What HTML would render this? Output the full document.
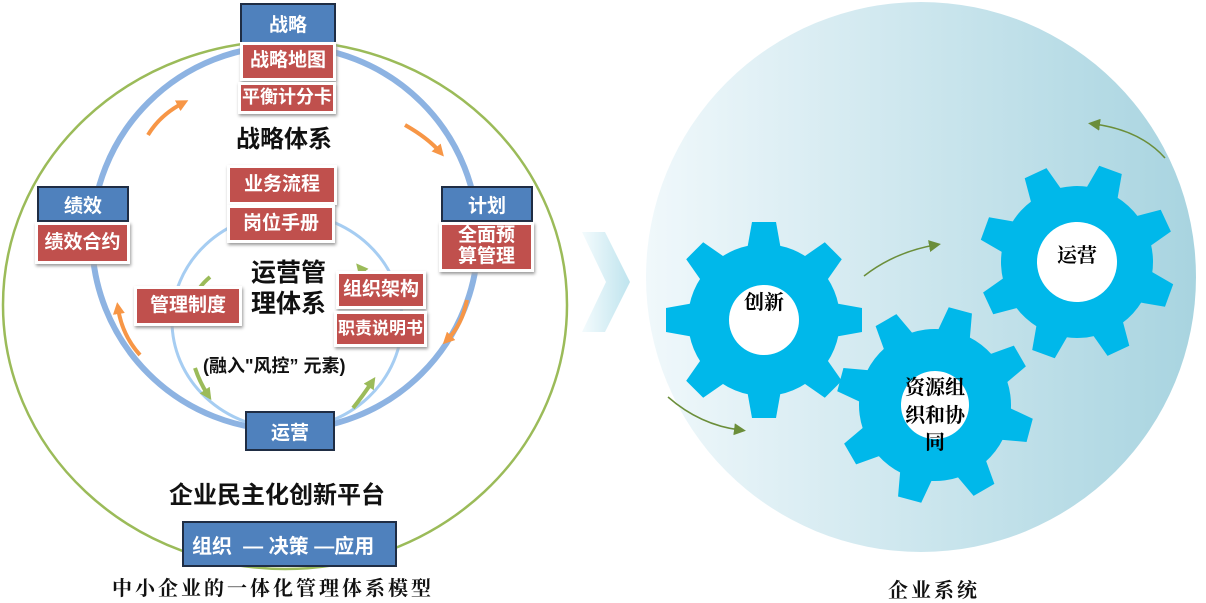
<!DOCTYPE html>
<html><head><meta charset="utf-8"><style>
body{margin:0;width:1206px;height:602px;background:#fff;overflow:hidden;position:relative;font-family:"Liberation Sans","Noto Sans CJK SC",sans-serif}
.b{position:absolute;background:#4f81bd;border:2px solid #1f2d44;color:#fff;font-weight:bold;font-size:19px;display:flex;align-items:center;justify-content:center;box-sizing:border-box}
.r{position:absolute;background:#c0504d;border:3px solid #fff;box-shadow:1px 2px 3px #999;color:#fff;font-weight:bold;font-size:19px;display:flex;align-items:center;justify-content:center;box-sizing:border-box;line-height:1.1;text-align:center;overflow:hidden;white-space:nowrap}
.t{position:absolute;font-weight:bold;color:#111;white-space:nowrap}
</style></head><body>
<svg width="1206" height="602" style="position:absolute;left:0;top:0">
<defs>
<linearGradient id="sg" x1="0" x2="1" y1="0" y2="0"><stop offset="0" stop-color="#f0f8fb"/><stop offset="1" stop-color="#a8d4e0"/></linearGradient>
<linearGradient id="cg" x1="0" x2="1"><stop offset="0" stop-color="#f4fbfd"/><stop offset="1" stop-color="#bfe4ee"/></linearGradient>
<marker id="ao" markerWidth="3" markerHeight="3" refX="1.5" refY="1.5" orient="auto"><path d="M0,0L3,1.5L0,3z" fill="#f79646"/></marker>
<marker id="ag" markerWidth="3" markerHeight="3" refX="1.5" refY="1.5" orient="auto"><path d="M0,0L3,1.5L0,3z" fill="#9bbb59"/></marker>
<marker id="ad" markerWidth="8" markerHeight="8" refX="4" refY="4" orient="auto"><path d="M0,0L8,4L0,8z" fill="#6b8e3a"/></marker>
</defs>
<ellipse cx="285" cy="305" rx="282" ry="264" fill="none" stroke="#9bbb59" stroke-width="2.5"/>
<ellipse cx="285" cy="238" rx="193" ry="192" fill="none" stroke="#8db3e2" stroke-width="6"/>
<ellipse cx="287" cy="321" rx="115" ry="108" fill="none" stroke="#a6cdf2" stroke-width="3"/>
<path d="M148,135 Q160,115 183,103" stroke="#f79646" stroke-width="4" fill="none" marker-end="url(#ao)"/>
<path d="M405,125 Q428,138 440,152" stroke="#f79646" stroke-width="4" fill="none" marker-end="url(#ao)"/>
<path d="M467,300 Q462,325 447,340" stroke="#f79646" stroke-width="4" fill="none" marker-end="url(#ao)"/>
<path d="M140,355 Q122,335 118,308" stroke="#f79646" stroke-width="4" fill="none" marker-end="url(#ao)"/>
<path d="M210,277 Q198,287 193,300" stroke="#9bbb59" stroke-width="4" fill="none" marker-end="url(#ag)"/>
<path d="M375,295 Q370,280 360,268" stroke="#9bbb59" stroke-width="4" fill="none" marker-end="url(#ag)"/>
<path d="M195,368 Q200,383 208,395" stroke="#9bbb59" stroke-width="4" fill="none" marker-end="url(#ag)"/>
<path d="M353,408 Q362,397 372,382" stroke="#9bbb59" stroke-width="4" fill="none" marker-end="url(#ag)"/>
<path d="M582,232 L605,232 L630,282 L605,332 L582,332 L606,282z" fill="url(#cg)"/>
<circle cx="921" cy="277" r="275" fill="url(#sg)"/>
<g fill="#00b8ea">
<g transform="translate(764,320)"><circle r="76"/>
<g id="t8"><path d="M-17,-70L-12,-98L12,-98L17,-70z"/><path d="M-17,-70L-12,-98L12,-98L17,-70z" transform="rotate(45)"/><path d="M-17,-70L-12,-98L12,-98L17,-70z" transform="rotate(90)"/><path d="M-17,-70L-12,-98L12,-98L17,-70z" transform="rotate(135)"/><path d="M-17,-70L-12,-98L12,-98L17,-70z" transform="rotate(180)"/><path d="M-17,-70L-12,-98L12,-98L17,-70z" transform="rotate(225)"/><path d="M-17,-70L-12,-98L12,-98L17,-70z" transform="rotate(270)"/><path d="M-17,-70L-12,-98L12,-98L17,-70z" transform="rotate(315)"/></g>
<circle r="35" fill="#fff"/></g>
<g transform="translate(935,405) rotate(15)"><circle r="76"/><use href="#t8"/><circle r="34" fill="#fff"/></g>
<g transform="translate(1077,262) rotate(20)"><circle r="76"/><use href="#t8"/><circle r="40" fill="#fff"/></g>
</g>
<path d="M864,276 Q895,252 935,245" stroke="#6b8e3a" stroke-width="1.5" fill="none" marker-end="url(#ad)"/>
<path d="M668,397 Q700,425 740,430" stroke="#6b8e3a" stroke-width="1.5" fill="none" marker-end="url(#ad)"/>
<path d="M1165,158 Q1140,130 1094,124" stroke="#6b8e3a" stroke-width="1.5" fill="none" marker-end="url(#ad)"/>
<g font-family="'Liberation Serif','Noto Serif CJK SC',serif" font-size="20" font-weight="bold" fill="#000" text-anchor="middle">
<text x="764" y="309">创新</text>
<text x="1077" y="262">运营</text>
<text x="935" y="394">资源组</text><text x="935" y="422">织和协</text><text x="935" y="449">同</text>
</g>
</svg>
<div class="b" style="left:240px;top:3px;width:96px;height:41px">战略</div>
<div class="r" style="left:240px;top:42px;width:96px;height:39px">战略地图</div>
<div class="r" style="left:238px;top:82px;width:98px;height:32px;font-size:18px">平衡计分卡</div>
<div class="t" style="left:236px;top:119px;font-size:24px">战略体系</div>
<div class="b" style="left:37px;top:186px;width:92px;height:36px">绩效</div>
<div class="r" style="left:35px;top:222px;width:95px;height:42px">绩效合约</div>
<div class="b" style="left:441px;top:186px;width:92px;height:36px">计划</div>
<div class="r" style="left:439px;top:222px;width:95px;height:50px">全面预<br>算管理</div>
<div class="r" style="left:227px;top:165px;width:110px;height:40px">业务流程</div>
<div class="r" style="left:227px;top:205px;width:108px;height:38px">岗位手册</div>
<div class="t" style="left:251px;top:258px;font-size:25px;line-height:31px">运营管<br>理体系</div>
<div class="r" style="left:336px;top:271px;width:90px;height:38px">组织架构</div>
<div class="r" style="left:334px;top:311px;width:93px;height:36px;font-size:17px">职责说明书</div>
<div class="r" style="left:134px;top:286px;width:108px;height:40px">管理制度</div>
<div class="t" style="left:203px;top:352px;font-size:18px">(融入"风控” 元素)</div>
<div class="b" style="left:245px;top:411px;width:90px;height:40px">运营</div>
<div class="t" style="left:169px;top:475px;font-size:24px">企业民主化创新平台</div>
<div class="b" style="left:182px;top:521px;width:215px;height:46px;justify-content:flex-start;padding-left:8px;font-size:20px">组织 &nbsp;— 决策 —应用</div>
<div class="t" style="left:112px;top:572px;font-size:20px;letter-spacing:3px;font-family:'Liberation Serif','Noto Serif CJK SC',serif">中小企业的一体化管理体系模型</div>
<div class="t" style="left:888px;top:574px;font-size:20px;letter-spacing:3px;font-family:'Liberation Serif','Noto Serif CJK SC',serif">企业系统</div>
</body></html>
